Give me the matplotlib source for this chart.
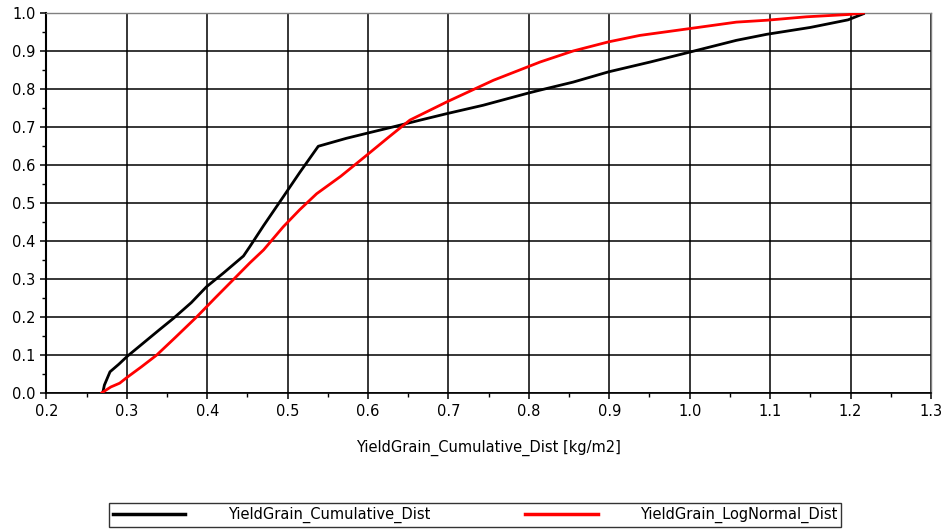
import matplotlib
matplotlib.use("Agg")
import matplotlib.pyplot as plt
from matplotlib.ticker import MultipleLocator, FormatStrFormatter

plt.rcParams['font.family'] = ['DejaVu Sans']

cum_x = [0.270, 0.272, 0.279, 0.290, 0.300, 0.320, 0.340, 0.358, 0.380, 0.399,
         0.420, 0.445, 0.453, 0.470, 0.4945, 0.515, 0.538, 0.573, 0.598, 0.631,
         0.665, 0.698, 0.743, 0.799, 0.814, 0.855, 0.899, 0.951, 1.000, 1.058,
         1.096, 1.150, 1.197, 1.216]
cum_y = [0.0, 0.02, 0.055, 0.075, 0.095, 0.13, 0.165, 0.196, 0.237, 0.279,
         0.315, 0.36, 0.385, 0.44, 0.516, 0.58, 0.649, 0.670, 0.683, 0.700,
         0.718, 0.735, 0.757, 0.789, 0.797, 0.818, 0.845, 0.871, 0.897, 0.928,
         0.944, 0.962, 0.982, 0.998]

log_x = [0.269, 0.280, 0.291, 0.300, 0.318, 0.337, 0.360, 0.387, 0.410, 0.432,
         0.453, 0.470, 0.4945, 0.515, 0.536, 0.566, 0.598, 0.625, 0.652, 0.698,
         0.756, 0.814, 0.855, 0.899, 0.938, 1.000, 1.058, 1.096, 1.145, 1.197,
         1.216]
log_y = [0.0, 0.015, 0.025, 0.040, 0.068, 0.099, 0.145, 0.200, 0.250, 0.297,
         0.342, 0.376, 0.437, 0.482, 0.524, 0.570, 0.625, 0.672, 0.718, 0.766,
         0.823, 0.871, 0.900, 0.924, 0.941, 0.959, 0.976, 0.981, 0.990, 0.996,
         1.0]

series_names = ["YieldGrain_Cumulative_Dist", "YieldGrain_LogNormal_Dist"]
x_label = "YieldGrain_Cumulative_Dist [kg/m2]"

fig = plt.figure(figsize=(9.47, 5.29), dpi=100)
ax = fig.add_axes([0.0491, 0.2577, 0.9339, 0.7177])

ax.set_xlim(0.2, 1.3)
ax.set_ylim(0.0, 1.0)
ax.xaxis.set_major_locator(MultipleLocator(0.1))
ax.xaxis.set_minor_locator(MultipleLocator(0.05))
ax.yaxis.set_major_locator(MultipleLocator(0.1))
ax.yaxis.set_minor_locator(MultipleLocator(0.05))
ax.xaxis.set_major_formatter(FormatStrFormatter('%.1f'))
ax.yaxis.set_major_formatter(FormatStrFormatter('%.1f'))

ax.grid(True, which='major', color='black', linewidth=1.1)
ax.set_axisbelow(True)

ax.plot(cum_x, cum_y, color='black', linewidth=2.0, label=series_names[0], zorder=3)
ax.plot(log_x, log_y, color='#ff0000', linewidth=2.0, label=series_names[1], zorder=4)

for s in ['top', 'right']:
    ax.spines[s].set_color('#808080')
    ax.spines[s].set_linewidth(1.0)
ax.spines['left'].set_color('black')
ax.spines['left'].set_linewidth(1.5)
ax.spines['bottom'].set_color('black')
ax.spines['bottom'].set_linewidth(1.2)

ax.tick_params(which='major', direction='out', length=4, width=1.1, labelsize=10.5, pad=4)
ax.tick_params(which='minor', direction='out', length=3, width=1.0)

ax.set_xlabel(x_label, fontsize=10.5, labelpad=15)

leg = fig.legend(loc='center', bbox_to_anchor=(0.5016, 0.0265), ncol=2,
                 fontsize=10.5, frameon=True, fancybox=False, edgecolor='black',
                 handlelength=5.0, handletextpad=2.9, columnspacing=6.5,
                 borderpad=0.25, borderaxespad=0.0)
leg.get_frame().set_linewidth(1.0)
for line in leg.get_lines():
    line.set_linewidth(2.5)

fig.savefig("out.png", dpi=100)
